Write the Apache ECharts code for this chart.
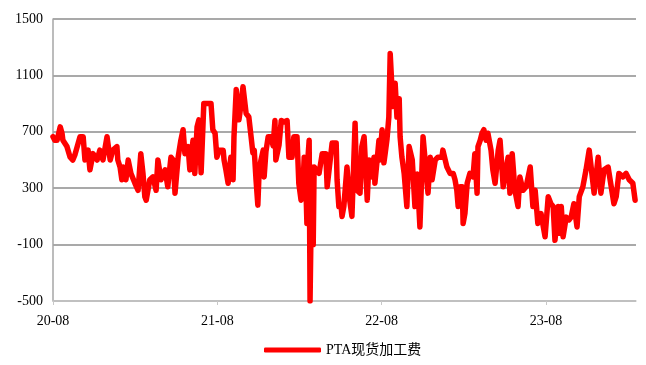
<!DOCTYPE html>
<html>
<head>
<meta charset="utf-8">
<script src="https://cdn.jsdelivr.net/npm/echarts@6/dist/echarts.min.js"></script>
<style>
  html, body { margin: 0; padding: 0; background: #fff; }
  #chart { width: 646px; height: 365px; }
</style>
</head>
<body>
<div id="chart"></div>
<script>
// PTA spot processing fee (yuan/ton)
const seriesName = 'PTA现货加工费';

const dates = [
  '2020-08-01','2020-08-05','2020-08-10','2020-08-17','2020-08-21','2020-08-23','2020-09-01','2020-09-08','2020-09-14','2020-09-19',
  '2020-09-23','2020-09-30','2020-10-07','2020-10-11','2020-10-18','2020-10-22','2020-10-29','2020-11-07','2020-11-13','2020-11-20',
  '2020-11-29','2020-12-01','2020-12-06','2020-12-12','2020-12-21','2020-12-23','2020-12-28','2021-01-01','2021-01-04','2021-01-10',
  '2021-01-15','2021-01-21','2021-01-30','2021-02-06','2021-02-12','2021-02-17','2021-02-21','2021-02-24','2021-03-04','2021-03-11',
  '2021-03-18','2021-03-22','2021-03-29','2021-04-07','2021-04-13','2021-04-20','2021-04-25','2021-04-29','2021-05-06','2021-05-12',
  '2021-05-17','2021-05-21','2021-05-28','2021-06-01','2021-06-08','2021-06-12','2021-06-17','2021-06-21','2021-06-26','2021-07-02',
  '2021-07-09','2021-07-18','2021-07-22','2021-07-27','2021-07-31','2021-08-05','2021-08-09','2021-08-14','2021-08-16','2021-08-20',
  '2021-08-25','2021-08-27','2021-08-31','2021-09-05','2021-09-07','2021-09-12','2021-09-16','2021-09-18','2021-09-23','2021-09-27',
  '2021-10-04','2021-10-10','2021-10-15','2021-10-19','2021-10-22','2021-10-26','2021-10-30','2021-11-02','2021-11-06','2021-11-11',
  '2021-11-13','2021-11-17','2021-11-22','2021-11-28','2021-12-03','2021-12-07','2021-12-09','2021-12-16','2021-12-21','2021-12-27',
  '2022-01-03','2022-01-07','2022-01-14','2022-01-18','2022-01-25','2022-01-29','2022-02-03','2022-02-07','2022-02-10','2022-02-14',
  '2022-02-16','2022-02-18','2022-02-21','2022-02-23','2022-02-25','2022-02-27','2022-03-02','2022-03-04','2022-03-08','2022-03-15',
  '2022-03-22','2022-03-30','2022-04-02','2022-04-06','2022-04-13','2022-04-22','2022-04-24','2022-04-28','2022-05-03','2022-05-05',
  '2022-05-09','2022-05-16','2022-05-21','2022-05-27','2022-06-03','2022-06-05','2022-06-07','2022-06-14','2022-06-18','2022-06-23',
  '2022-06-25','2022-06-30','2022-07-04','2022-07-11','2022-07-15','2022-07-17','2022-07-22','2022-07-26','2022-07-28','2022-08-02',
  '2022-08-06','2022-08-09','2022-08-13','2022-08-17','2022-08-20','2022-08-22','2022-08-26','2022-08-31','2022-09-04','2022-09-09',
  '2022-09-11','2022-09-15','2022-09-20','2022-09-26','2022-10-01','2022-10-08','2022-10-14','2022-10-19','2022-10-25','2022-11-01',
  '2022-11-05','2022-11-12','2022-11-17','2022-11-21','2022-11-23','2022-11-28','2022-12-04','2022-12-13','2022-12-15','2022-12-24',
  '2022-12-31','2023-01-07','2023-01-11','2023-01-15','2023-01-18','2023-01-22','2023-01-27','2023-01-29','2023-02-02','2023-02-07',
  '2023-02-13','2023-02-20','2023-02-24','2023-03-01','2023-03-03','2023-03-08','2023-03-12','2023-03-16','2023-03-21','2023-03-25',
  '2023-04-01','2023-04-05','2023-04-10','2023-04-17','2023-04-21','2023-04-28','2023-05-04','2023-05-09','2023-05-13','2023-05-18',
  '2023-05-20','2023-05-24','2023-05-31','2023-06-04','2023-06-11','2023-06-18','2023-06-22','2023-06-27','2023-07-03','2023-07-08',
  '2023-07-14','2023-07-21','2023-07-30','2023-08-06','2023-08-12','2023-08-17','2023-08-21','2023-08-28','2023-09-01','2023-09-04',
  '2023-09-08','2023-09-15','2023-09-21','2023-09-26','2023-10-02','2023-10-09','2023-10-14','2023-10-22','2023-10-29','2023-11-05',
  '2023-11-09','2023-11-16','2023-11-25','2023-12-01','2023-12-08','2023-12-17','2023-12-24','2023-12-30','2024-01-04','2024-01-10',
  '2024-01-19','2024-01-26','2024-02-02','2024-02-10','2024-02-15'
];

const fees = [
  665, 640, 640, 735, 690, 640, 595, 520, 500, 540,
  545, 665, 665, 500, 570, 430, 545, 500, 570, 500,
  665, 665, 500, 570, 595, 500, 450, 360, 450, 360,
  500, 405, 335, 285, 545, 400, 240, 215, 360, 380,
  285, 500, 360, 430, 310, 520, 500, 265, 520, 640,
  715, 545, 595, 430, 640, 405, 735, 785, 410, 900,
  900, 900, 715, 690, 520, 570, 570, 570, 500, 430,
  335, 400, 520, 360, 665, 1000, 1000, 785, 900, 1020,
  830, 805, 665, 550, 570, 360, 180, 430, 500, 570,
  380, 560, 665, 665, 600, 780, 500, 605, 780, 770,
  780, 520, 520, 665, 665, 335, 215, 300, 520, 285,
  50, 500, 640, -500, -500, 450, -100, 450, 450, 405,
  545, 545, 310, 310, 620, 620, 360, 170, 170, 100,
  170, 450, 240, 100, 760, 760, 285, 265, 595, 665,
  665, 215, 500, 380, 520, 335, 500, 640, 500, 715,
  480, 550, 650, 805, 1255, 1255, 880, 1045, 805, 935,
  665, 520, 405, 170, 595, 500, 170, 400, 25, 665,
  665, 265, 520, 360, 360, 500, 520, 520, 570, 450,
  405, 405, 360, 285, 170, 310, 310, 50, 120, 335,
  405, 380, 545, 265, 595, 640, 690, 715, 640, 690,
  570, 430, 335, 570, 640, 310, 430, 520, 265, 545,
  545, 285, 170, 380, 285, 310, 310, 450, 170, 285,
  50, 120, -45, 240, 190, 170, -70, 170, -20, 170,
  -45, 95, 75, 95, 190, 25, 240, 310, 430, 570,
  570, 265, 520, 265, 430, 450, 310, 190, 240, 405,
  380, 405, 360, 335, 215
];

const yTicks = { min: -500, max: 1500, step: 400 };
const xLabelDates = ['2020-08-01', '2021-08-01', '2022-08-01', '2023-08-01'];
const xRange = ['2020-08-01', '2024-02-17'];

// Dates are handled as UTC timestamps on a numeric axis
function toTime(s) {
  const p = s.split('-').map(Number);
  return Date.UTC(p[0], p[1] - 1, p[2]);
}

const points = dates.map((d, i) => [toTime(d), fees[i]]);
const labelTimes = xLabelDates.map(toTime);
const serif = '"Liberation Serif", "Times New Roman", "Noto Sans CJK SC", serif';

const chart = echarts.init(document.getElementById('chart'));
chart.setOption({
  animation: false,
  backgroundColor: '#ffffff',
  grid: { left: 53, right: 10, top: 19, bottom: 64, outerBoundsMode: 'none' },
  xAxis: {
    type: 'value',
    min: toTime(xRange[0]),
    max: toTime(xRange[1]),
    axisLine: { show: true, onZero: false, lineStyle: { color: '#c8c8c8', width: 1.5 } },
    axisTick: { show: true, customValues: labelTimes, length: 4, lineStyle: { color: '#c8c8c8', width: 1 } },
    axisLabel: {
      customValues: labelTimes,
      margin: 13,
      color: '#000',
      fontFamily: serif,
      fontSize: 14,
      formatter: function (v) {
        const d = new Date(v);
        const yy = String(d.getUTCFullYear() % 100).padStart(2, '0');
        const mm = String(d.getUTCMonth() + 1).padStart(2, '0');
        return yy + '-' + mm;
      }
    },
    splitLine: { show: false }
  },
  yAxis: {
    type: 'value',
    min: yTicks.min,
    max: yTicks.max,
    interval: yTicks.step,
    axisLine: { show: true, lineStyle: { color: '#a6a6a6', width: 1.5 } },
    axisTick: { show: false },
    axisLabel: {
      margin: 10, color: '#000', fontFamily: serif, fontSize: 14,
      formatter: function (v) { return String(v); }
    },
    splitLine: { show: true, lineStyle: { color: '#8c8c8c', width: 1.5 } }
  },
  legend: {
    left: 259,
    top: 338,
    icon: 'roundRect',
    itemWidth: 57,
    itemHeight: 5,
    itemGap: 10,
    textStyle: { color: '#000', fontFamily: serif, fontSize: 14 },
    data: [seriesName]
  },
  series: [{
    name: seriesName,
    type: 'line',
    data: points,
    showSymbol: false,
    symbol: 'none',
    sampling: false,
    itemStyle: { color: '#ff0000' },
    lineStyle: { color: '#ff0000', width: 5.5, cap: 'round', join: 'round' }
  }]
});
</script>
</body>
</html>
